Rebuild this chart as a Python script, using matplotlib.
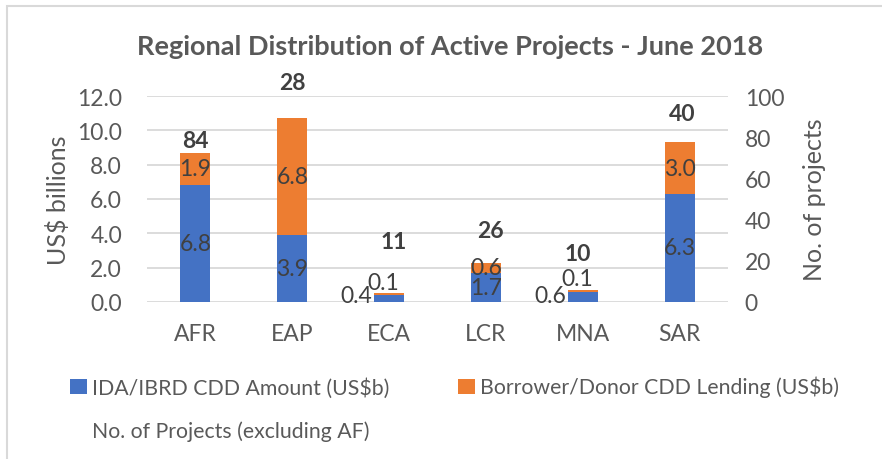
import matplotlib
matplotlib.use("Agg")
import matplotlib.pyplot as plt
import numpy as np
from matplotlib.patches import Rectangle

regions = ["AFR", "EAP", "ECA", "LCR", "MNA", "SAR"]
ida_ibrd = [6.8, 3.9, 0.4, 1.7, 0.6, 6.3]
borrower = [1.9, 6.8, 0.1, 0.6, 0.1, 3.0]
n_projects = [84, 28, 11, 26, 10, 40]

# where the project-count labels sit (left axis units)
count_label_y = [9.4, 12.8, 3.5, 4.15, 2.85, 11.0]
count_label_dx = [0.0, 0.0, 0.05, 0.05, -0.05, 0.03]

BLUE, ORANGE = "#4472C4", "#ED7D31"
TXT, LBL, GRID = "#595959", "#404040", "#D9D9D9"
plt.rcParams["font.family"] = ["Lato", "DejaVu Sans"]
FS = 16.5

fig = plt.figure(figsize=(8.82, 4.60), dpi=100)
fig.patches.append(Rectangle((7 / 882, -0.1), 1.2, 1 - 7 / 460 + 0.1, transform=fig.transFigure,
                             fill=False, edgecolor=GRID, lw=1.5))
ax = fig.add_axes([147 / 882, 1 - 303 / 460, (728 - 147) / 882, (303 - 97) / 460])
x = np.arange(len(regions))
w = 0.31
b1 = ax.bar(x, ida_ibrd, w, color=BLUE, label="IDA/IBRD CDD Amount (US$b)", zorder=3)
b2 = ax.bar(x, borrower, w, bottom=ida_ibrd, color=ORANGE,
            label="Borrower/Donor CDD Lending (US$b)", zorder=3)
ax.set_xlim(-0.5, len(regions) - 0.5)
ax.set_ylim(0, 12)
ax.set_yticks(np.arange(0, 12.1, 2))
ax.set_yticklabels([f"{v:.1f}" for v in np.arange(0, 12.1, 2)])
ax.set_xticks(x)
ax.set_xticklabels(regions)
ax.grid(axis="y", color=GRID, lw=1.3, zorder=0)
for s in ax.spines.values():
    s.set_visible(False)
ax.tick_params(length=0, labelsize=FS, colors=TXT)
ax.tick_params(axis="y", pad=18)
ax.tick_params(axis="x", pad=15)

for i in x:
    lo, hi = ida_ibrd[i], borrower[i]
    if lo + hi < 1.0:
        ax.text(i - w / 2 - 0.02, 0.35, f"{lo:.1f}", ha="right", va="center", fontsize=FS, color=LBL, zorder=4)
        ax.text(i - 0.06, lo + hi + 0.05, f"{hi:.1f}", ha="center", va="bottom", fontsize=FS, color=LBL, zorder=4)
    else:
        ax.text(i, lo / 2, f"{lo:.1f}", ha="center", va="center", fontsize=FS, color=LBL, zorder=4)
        ax.text(i, lo + hi / 2, f"{hi:.1f}", ha="center", va="center", fontsize=FS, color=LBL, zorder=4)
    ax.text(i + count_label_dx[i], count_label_y[i], str(n_projects[i]), ha="center", va="center",
            fontsize=FS, fontweight="bold", color=LBL, zorder=4)

ax2 = ax.twinx()
ax2.set_ylim(0, 100)
ax2.set_yticks(range(0, 101, 20))
for s in ax2.spines.values():
    s.set_visible(False)
ax2.tick_params(length=0, labelsize=FS, colors=TXT, pad=12)
line, = ax2.plot(x, n_projects, lw=0, label="No. of Projects (excluding AF)")

# axis titles placed where they sit in the original
fig.text(58 / 882, 1 - 200 / 460, "US$ billions", rotation=90, ha="center", va="center",
         fontsize=18, color=TXT)
fig.text(815 / 882, 1 - 200 / 460, "No. of projects", rotation=90, ha="center", va="center",
         fontsize=18, color=TXT)

fig.text(450 / 882, 1 - 47 / 460, "Regional Distribution of Active Projects - June 2018",
         ha="center", va="center", fontsize=19.5, fontweight="bold", color=TXT)

leg = fig.legend(handles=[b1, line, b2], loc="upper left", bbox_to_anchor=(70 / 882, 1 - 377 / 460),
                 ncol=2, frameon=False, fontsize=15.3, labelcolor=TXT, handlelength=0.8,
                 handletextpad=0.25, columnspacing=3.2, labelspacing=1.1, borderpad=0,
                 borderaxespad=0)

fig.savefig("out.png", dpi=100)
